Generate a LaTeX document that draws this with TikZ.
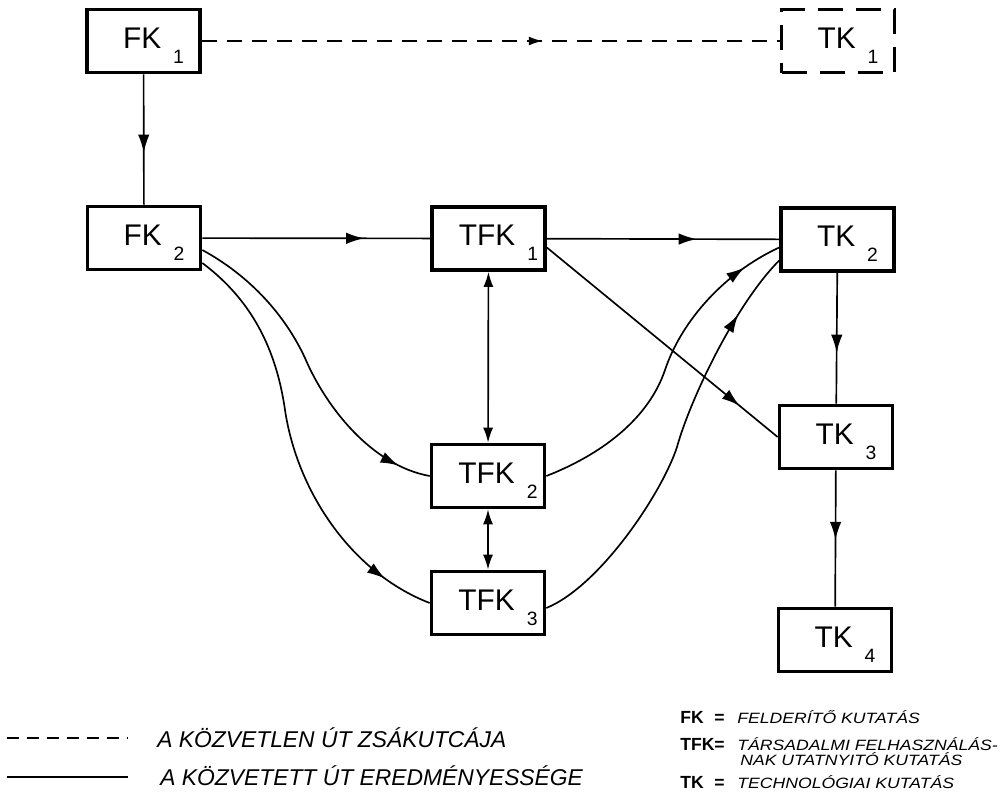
\documentclass[tikz,border=0pt]{standalone}
\usepackage{fontspec}
\usepackage{graphicx}
\setmainfont{Liberation Sans}
\usetikzlibrary{arrows.meta,decorations.markings,calc}

\newcommand{\boxfont}{\fontsize{17}{17}\selectfont}
\newcommand{\klbl}[2]{\hspace*{0.4cm}#1\hspace{0.24cm}\raisebox{-0.3cm}{\fontsize{11}{11}\selectfont #2}}
\newcommand{\widetext}[1]{\scalebox{1.18}[1]{#1}}

\begin{document}
\begin{tikzpicture}
[x=0.02cm,y=-0.02cm,
  boxDecorate/.style={draw,line width=2.1pt,minimum width=2.26cm,minimum height=1.26cm,
    inner sep=0pt,text height=0.28cm,text depth=0pt,font=\boxfont},
  ghostDecorate/.style={boxDecorate,dash pattern=on 0.5cm off 0.26cm},
  lineDecorate/.style={-,line width=0.95pt},
  midArrow/.style={decoration={markings,
    mark=at position #1 with {\arrow{Latex[length=3.6mm,width=2.3mm]}}},postaction={decorate}},
  legendLeft/.style={anchor=base west,inner sep=0pt,font=\fontsize{13}{13}\selectfont\itshape},
  legendRight/.style={anchor=base west,inner sep=0pt,font=\fontsize{8.5}{8.5}\selectfont\itshape},
  legendKey/.style={anchor=base west,inner sep=0pt,font=\fontsize{10}{10}\selectfont\bfseries}]
\useasboundingbox (0,0) rectangle (1004,796);
%% boxes
\foreach \nodename/\x/\y/\main/\sub in {
  FKa/143.5/41/FK/1,
  FKb/144/238/FK/2,
  TFKa/488.5/238.5/TFK/1,
  TFKb/488/476/TFK/2,
  TFKc/488/603/TFK/3,
  TKb/837.5/239.5/TK/2,
  TKc/836/437/TK/3,
  TKd/835/640/TK/4}
{
  \node[boxDecorate] (\nodename) at (\x,\y) {\klbl{\main}{\sub}};
}
\node[ghostDecorate] (TKa) at (838,41) {\klbl{TK}{1}};
%% straight connectors
\draw[lineDecorate,dash pattern=on 0.3cm off 0.2cm,
  decoration={markings,mark=at position 0.59 with {\arrow{Latex[length=2.8mm,width=1.8mm]}}},
  postaction={decorate}] (FKa) -- (TKa);
\path
\foreach \startnode/\endnode/\p in {
  FKa/FKb/0.6, FKb/TFKa/0.71, TFKa/TKb/0.645, TKb/TKc/0.61, TKc/TKd/0.51}
{
  (\startnode) edge[lineDecorate,midArrow=\p] (\endnode)
};
\draw[lineDecorate,midArrow=0.835] ($(TFKa.east)+(0,9)$) -- (TKc.west);
\draw[lineDecorate,{Latex[length=3mm,width=2mm]}-{Latex[length=3mm,width=2mm]}]
  (TFKa) -- (TFKb);
\draw[lineDecorate,{Latex[length=3mm,width=2mm]}-{Latex[length=3mm,width=2mm]}]
  (TFKb) -- (TFKc);
%% curved connectors
\draw[lineDecorate,midArrow=0.9] ($(FKb.east)+(0,12)$)
  .. controls (250,276) and (285,315) .. (305,358)
  .. controls (325,405) and (370,465) .. (TFKb.west);
\draw[lineDecorate,midArrow=0.88] ($(FKb.east)+(0,25)$)
  .. controls (245,295) and (275,340) .. (285,410)
  .. controls (297,490) and (350,572) .. (TFKc.west);
\draw[lineDecorate,midArrow=0.88] (TFKb.east)
  .. controls (600,455) and (648,420) .. (665,370)
  .. controls (680,325) and (720,275) .. ($(TKb.west)+(0,8)$);
\draw[lineDecorate,midArrow=0.84] ($(TFKc.east)+(0,5)$)
  .. controls (600,586) and (662,493) .. (677,447)
  .. controls (690,400) and (735,305) .. ($(TKb.west)+(0,21)$);
%% legend
\coordinate (dashL) at (7,738);
\coordinate (dashR) at (128,738);
\coordinate (solidL) at (7,777);
\coordinate (solidR) at (128,777);
\draw[line width=1pt,dash pattern=on 0.24cm off 0.16cm] (dashL) -- (dashR);
\draw[line width=1pt] (solidL) -- (solidR);
\node[legendLeft] (legDash) at (157,747) {A KÖZVETLEN ÚT ZSÁKUTCÁJA};
\node[legendLeft] (legSolid) at (160,785) {A KÖZVETETT ÚT EREDMÉNYESSÉGE};
\node[legendKey] (keyFK) at (680,723) {FK};
\node[legendKey] (eqFK) at (714,723) {=};
\node[legendRight] (txtFK) at (737,723) {\widetext{FELDERÍTŐ KUTATÁS}};
\node[legendKey] (keyTFK) at (680,750) {TFK};
\node[legendKey] (eqTFK) at (714,750) {=};
\node[legendRight] (txtTFKa) at (737,750) {\widetext{TÁRSADALMI FELHASZNÁLÁS-}};
\node[legendRight] (txtTFKb) at (740,765) {\widetext{NAK UTATNYITÓ KUTATÁS}};
\node[legendKey] (keyTK) at (680,788) {TK};
\node[legendKey] (eqTK) at (714,788) {=};
\node[legendRight] (txtTK) at (737,788) {\widetext{TECHNOLÓGIAI KUTATÁS}};
\end{tikzpicture}
\end{document}
